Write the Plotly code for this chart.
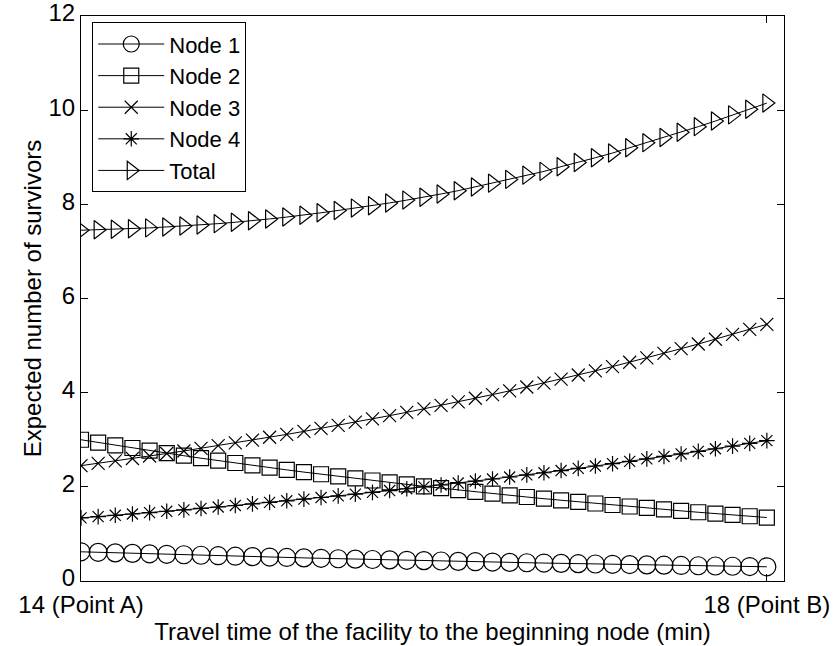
import plotly.graph_objects as go

# Travel time from the facility to the beginning node (min), 0.1 min steps
travel_time = [round(14 + 0.1 * i, 1) for i in range(41)]

node1 = [0.620, 0.609, 0.598, 0.587, 0.577, 0.567, 0.557, 0.547, 0.537, 0.527,
         0.518, 0.509, 0.500, 0.491, 0.482, 0.473, 0.465, 0.457, 0.448, 0.440,
         0.433, 0.425, 0.417, 0.410, 0.403, 0.395, 0.388, 0.381, 0.375, 0.368,
         0.361, 0.355, 0.349, 0.342, 0.336, 0.330, 0.324, 0.319, 0.313, 0.307,
         0.302]
node2 = [3.000, 2.941, 2.882, 2.825, 2.769, 2.715, 2.661, 2.608, 2.556, 2.506,
         2.456, 2.408, 2.360, 2.313, 2.267, 2.222, 2.178, 2.135, 2.093, 2.052,
         2.011, 1.971, 1.932, 1.894, 1.856, 1.820, 1.784, 1.748, 1.714, 1.680,
         1.646, 1.614, 1.582, 1.551, 1.520, 1.490, 1.460, 1.431, 1.403, 1.375,
         1.348]
node3 = [2.450, 2.499, 2.550, 2.601, 2.654, 2.708, 2.762, 2.818, 2.875, 2.933,
         2.992, 3.053, 3.114, 3.177, 3.242, 3.307, 3.374, 3.442, 3.512, 3.583,
         3.655, 3.729, 3.804, 3.881, 3.959, 4.039, 4.121, 4.204, 4.289, 4.376,
         4.464, 4.554, 4.646, 4.740, 4.836, 4.934, 5.033, 5.135, 5.239, 5.345,
         5.452]
node4 = [1.340, 1.367, 1.395, 1.423, 1.452, 1.481, 1.511, 1.541, 1.572, 1.604,
         1.637, 1.670, 1.703, 1.738, 1.773, 1.809, 1.845, 1.883, 1.921, 1.959,
         1.999, 2.039, 2.081, 2.123, 2.166, 2.209, 2.254, 2.299, 2.346, 2.393,
         2.442, 2.491, 2.541, 2.593, 2.645, 2.698, 2.753, 2.809, 2.865, 2.923,
         2.982]
total = [7.45, 7.46, 7.47, 7.48, 7.50, 7.52, 7.54, 7.56, 7.59, 7.62,
         7.65, 7.69, 7.73, 7.77, 7.82, 7.87, 7.92, 7.97, 8.03, 8.09,
         8.15, 8.22, 8.29, 8.37, 8.45, 8.53, 8.62, 8.70, 8.80, 8.89,
         8.99, 9.09, 9.20, 9.31, 9.42, 9.53, 9.65, 9.77, 9.90, 10.02,
         10.15]

x_tick_vals = [14, 18]
x_tick_text = ["14 (Point A)", "18 (Point B)"]
y_tick_vals = [0, 2, 4, 6, 8, 10, 12]

series = [
    ("Node 1", node1, "circle-open", 18),
    ("Node 2", node2, "square-open", 15),
    ("Node 3", node3, "x-thin-open", 13),
    ("Node 4", node4, "asterisk-open", 13),
    ("Total", total, "triangle-right-open", 16),
]

FONT = "Liberation Sans, Arial, sans-serif"
TXT = dict(family=FONT, size=24, color="black")
LEG = dict(family=FONT, size=22, color="black")

fig = go.Figure()
for name, values, symbol, size in series:
    fig.add_trace(go.Scatter(
        x=travel_time, y=values, name=name, mode="lines+markers",
        line=dict(color="black", width=1),
        marker=dict(symbol=symbol, size=size, color="black",
                    line=dict(color="black", width=1.2)),
    ))

axis_common = dict(
    showline=True, linecolor="black", linewidth=1, mirror="ticks",
    ticks="inside", ticklen=7, tickcolor="black", tickwidth=1,
    showgrid=False, zeroline=False, tickfont=TXT, automargin=False,
)

fig.update_layout(
    width=835, height=646,
    margin=dict(l=81, r=51, t=16, b=65),
    paper_bgcolor="white", plot_bgcolor="white",
    font=TXT,
    showlegend=True,
    legend=dict(
        x=0.016, y=0.989, xanchor="left", yanchor="top",
        bgcolor="white", bordercolor="black", borderwidth=1,
        font=LEG, tracegroupgap=0, itemwidth=66,
    ),
    xaxis=dict(
        range=[14, 18.1], tickvals=x_tick_vals, ticktext=x_tick_text,
        ticklabelstandoff=2,
        title=dict(text="Travel time of the facility to the beginning node (min)",
                   font=TXT, standoff=0),
        **axis_common,
    ),
    yaxis=dict(
        range=[0, 12], tickvals=y_tick_vals, ticklabelshift=-3,
        ticklabeloverflow="allow",
        title=dict(text="Expected number of survivors", font=TXT, standoff=0),
        **axis_common,
    ),
)

fig.write_html("out.html")
